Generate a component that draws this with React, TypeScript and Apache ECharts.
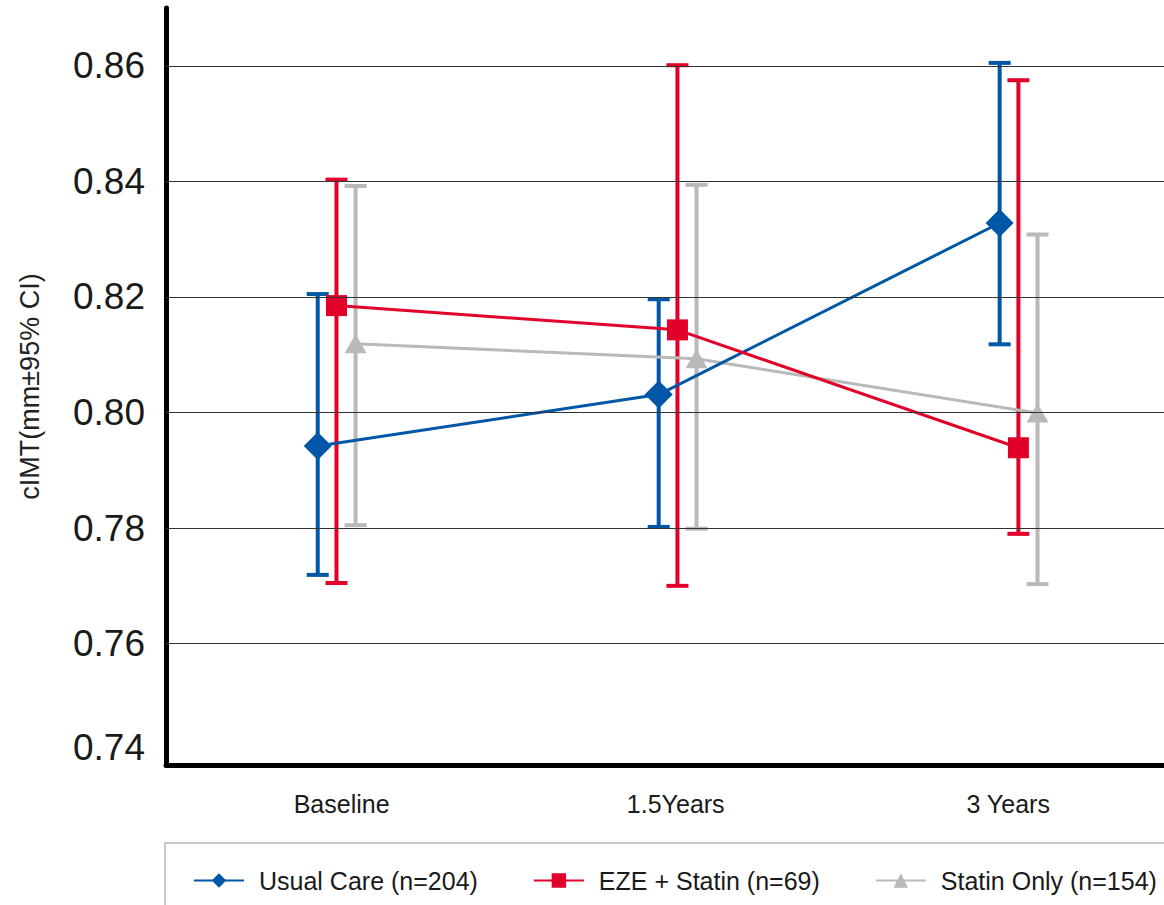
import React, { useEffect, useRef } from "react";
import * as echarts from "echarts";

const categories = ["Baseline", "1.5Years", "3 Years"];
const seriesNames = ["Usual Care (n=204)", "EZE + Statin (n=69)", "Statin Only (n=154)"];

const usualMean = [0.7942, 0.8031, 0.8328];
const usualLow = [0.7719, 0.7802, 0.8118];
const usualHigh = [0.8205, 0.8196, 0.8605];

const ezeMean = [0.8185, 0.8143, 0.7939];
const ezeLow = [0.7705, 0.77, 0.779];
const ezeHigh = [0.8403, 0.8601, 0.8575];

const statinMean = [0.8119, 0.8093, 0.7999];
const statinLow = [0.7805, 0.7799, 0.7703];
const statinHigh = [0.8392, 0.8394, 0.8308];

const yTicks = [0.74, 0.76, 0.78, 0.8, 0.82, 0.84, 0.86];

// layout (not data)
const catIndex = [0, 1, 2];
const seriesOffset = [-0.055, 0, 0.056];
const labelPos = [0.015, 0.995, 1.97];
const colors = ["#0057a8", "#e2002a", "#b9b9b9"];
const symbols = ["diamond", "rect", "triangle"];
const symbolSizes = [28, 21, [22, 19]];
const FONT = "Liberation Sans, Arial, sans-serif";

export default function App() {
  const ref = useRef<HTMLDivElement>(null);
  useEffect(() => {
    if (!ref.current) return;
    const chart = echarts.init(ref.current, null, { renderer: "svg" });
    const means = [usualMean, ezeMean, statinMean];
    const lows = [usualLow, ezeLow, statinLow];
    const highs = [usualHigh, ezeHigh, statinHigh];

    const lineSeries: any[] = [];
    const errSeries: any[] = [];
    const order = [2, 0, 1];
    order.forEach((s) => {
      errSeries.push({
        type: "custom",
        name: seriesNames[s] + " CI",
        z: 3,
        silent: true,
        data: catIndex.map((c) => [c + seriesOffset[s], lows[s][c], highs[s][c]]),
        encode: { x: 0, y: [1, 2] },
        renderItem: (params: any, api: any) => {
          const x = api.value(0);
          const lo = api.coord([x, api.value(1)]);
          const hi = api.coord([x, api.value(2)]);
          const hw = 11;
          const style = { stroke: colors[s], lineWidth: 4 };
          return {
            type: "group",
            children: [
              { type: "line", shape: { x1: lo[0], y1: lo[1], x2: hi[0], y2: hi[1] }, style },
              { type: "line", shape: { x1: lo[0] - hw, y1: lo[1], x2: lo[0] + hw, y2: lo[1] }, style },
              { type: "line", shape: { x1: hi[0] - hw, y1: hi[1], x2: hi[0] + hw, y2: hi[1] }, style },
            ],
          };
        },
      });
      lineSeries.push({
        type: "line",
        name: seriesNames[s],
        z: 4,
        data: catIndex.map((c) => [c + seriesOffset[s], means[s][c]]),
        symbol: symbols[s],
        symbolSize: symbolSizes[s],
        showAllSymbol: true,
        itemStyle: { color: colors[s] },
        lineStyle: { color: colors[s], width: 3 },
      });
    });

    const option: any = {
      animation: false,
      backgroundColor: "#ffffff",
      grid: { left: 166, right: 0, top: 8, bottom: 905 - 765 },
      xAxis: {
        type: "value",
        min: -0.5,
        max: 2.427,
        splitLine: { show: false },
        axisTick: { show: false },
        axisLine: { show: true, onZero: false, lineStyle: { color: "#000", width: 5 } },
        axisLabel: {
          customValues: labelPos,
          formatter: (v: number) => categories[Math.round(v)] ?? "",
          fontSize: 25,
          color: "#1a1a1a",
          fontFamily: FONT,
          margin: 26,
        },
      },
      yAxis: {
        type: "value",
        min: 0.739,
        max: 0.87,
        name: "cIMT(mm\u00b195% CI)",
        nameLocation: "middle",
        nameRotate: 90,
        nameGap: 123,
        nameTextStyle: { fontSize: 27, color: "#222", fontFamily: FONT },
        splitLine: { show: false },
        axisTick: { show: false },
        axisLine: { show: true, onZero: false, lineStyle: { color: "#000", width: 5 } },
        axisLabel: {
          customValues: yTicks,
          formatter: (v: number) => (v < 0.745 ? "{low|" + v.toFixed(2) + "}" : v.toFixed(2)),
          fontSize: 37,
          color: "#1a1a1a",
          fontFamily: FONT,
          margin: 21,
          rich: {
            low: { fontSize: 37, color: "#1a1a1a", fontFamily: FONT, padding: [0, 0, 24, 0] },
          },
        },
      },
      legend: {
        data: seriesNames,
        left: 188,
        top: 863,
        itemWidth: 50,
        itemHeight: 18,
        itemGap: 55,
        lineStyle: { width: 2 },
        textStyle: {
          fontSize: 25,
          color: "#1a1a1a",
          fontFamily: FONT,
          padding: [0, 0, 0, 10],
        },
      },
      graphic: [
        {
          type: "rect",
          shape: { x: 165, y: 843, width: 1020, height: 90 },
          style: { fill: "none", stroke: "#c8c8c8", lineWidth: 2 },
          silent: true,
        },
      ],
      series: [
        {
          type: "line",
          name: "grid",
          data: [],
          z: 1,
          silent: true,
          markLine: {
            silent: true,
            symbol: "none",
            label: { show: false },
            lineStyle: { color: "#333", width: 1, type: "solid" },
            data: yTicks.filter((t) => t > 0.74).map((t) => ({ yAxis: t })),
          },
        },
        ...errSeries,
        ...lineSeries,
      ],
    };
    chart.setOption(option);
    return () => chart.dispose();
  }, []);
  return (
    <div
      ref={ref}
      style={{ position: "fixed", left: 0, top: 0, width: 1164, height: 905, background: "#fff" }}
    />
  );
}
